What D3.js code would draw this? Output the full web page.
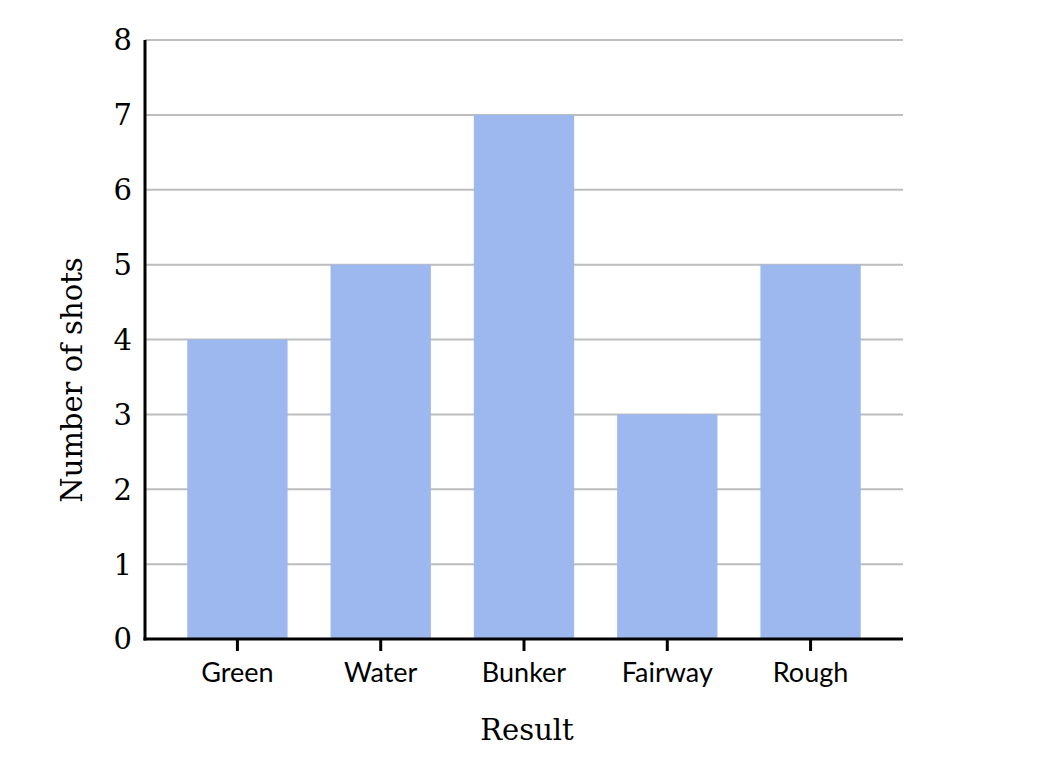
<!DOCTYPE html>
<html>
<head>
<meta charset="utf-8">
<script src="https://cdn.jsdelivr.net/npm/d3@7"></script>
<style>
  body { margin: 0; background: #fff; }
  .grid line { stroke: #bdbdbd; stroke-width: 2; }
  .tick-y { font-family: 'DejaVu Serif', serif; font-size: 29px; }
  .axis-x text { font-family: Lato, sans-serif; font-size: 27px; }
  .title { font-family: 'DejaVu Serif', serif; font-size: 29px; }
</style>
</head>
<body>
<div id="chart"></div>
<script>
const categories = ['Green', 'Water', 'Bunker', 'Fairway', 'Rough'];
const shots = [4, 5, 7, 3, 5];
const yTicks = [0, 1, 2, 3, 4, 5, 6, 7, 8];

const width = 1054, height = 774;
const margin = {top: 40, right: 151, bottom: 135, left: 145};

let svg = d3.select('#chart')
  .append('svg')
    .attr('width', width)
    .attr('height', height);

// Scales
let x = d3.scaleBand()
  .domain(categories)
  .range([margin.left, width - margin.right])
  .paddingInner(0.3)
  .paddingOuter(0.295);

let y = d3.scaleLinear()
  .domain([0, 8])
  .range([height - margin.bottom, margin.top]);

// Gridlines
svg.append('g')
  .attr('class', 'grid')
  .selectAll('line')
  .data(yTicks.slice(1))
  .enter().append('line')
    .attr('x1', margin.left)
    .attr('x2', width - margin.right)
    .attr('y1', d => y(d))
    .attr('y2', d => y(d));

// Bars
svg.append('g')
  .selectAll('rect')
  .data(categories)
  .enter().append('rect')
    .attr('x', d => x(d))
    .attr('width', x.bandwidth())
    .attr('y', (d, i) => y(shots[i]))
    .attr('height', (d, i) => y(0) - y(shots[i]))
    .attr('fill', '#9db8ee');

// Y tick labels
svg.append('g')
  .selectAll('text')
  .data(yTicks)
  .enter().append('text')
    .attr('class', 'tick-y')
    .attr('x', margin.left - 13)
    .attr('y', d => y(d))
    .attr('dy', '0.36em')
    .attr('text-anchor', 'end')
    .text(d => d);

// X axis
let xAxis = svg.append('g')
  .attr('class', 'axis-x')
  .attr('transform', 'translate(0,' + y(0) + ')')
  .call(d3.axisBottom(x).tickSize(12).tickSizeOuter(0).tickPadding(12));
xAxis.select('.domain').remove();
xAxis.selectAll('.tick line').attr('stroke', '#000').attr('stroke-width', 3);
xAxis.selectAll('text').attr('fill', '#000');

// Axis lines
svg.append('line')
  .attr('x1', margin.left - 1.5).attr('x2', width - margin.right)
  .attr('y1', y(0)).attr('y2', y(0))
  .attr('stroke', '#000').attr('stroke-width', 3);
svg.append('line')
  .attr('x1', margin.left).attr('x2', margin.left)
  .attr('y1', y(8)).attr('y2', y(0) + 1.5)
  .attr('stroke', '#000').attr('stroke-width', 3);

// Titles
svg.append('text')
  .attr('class', 'title')
  .attr('x', 527)
  .attr('y', 740)
  .attr('text-anchor', 'middle')
  .text('Result');
svg.append('text')
  .attr('class', 'title')
  .attr('transform', 'translate(82,380) rotate(-90)')
  .attr('text-anchor', 'middle')
  .text('Number of shots');
</script>
</body>
</html>
